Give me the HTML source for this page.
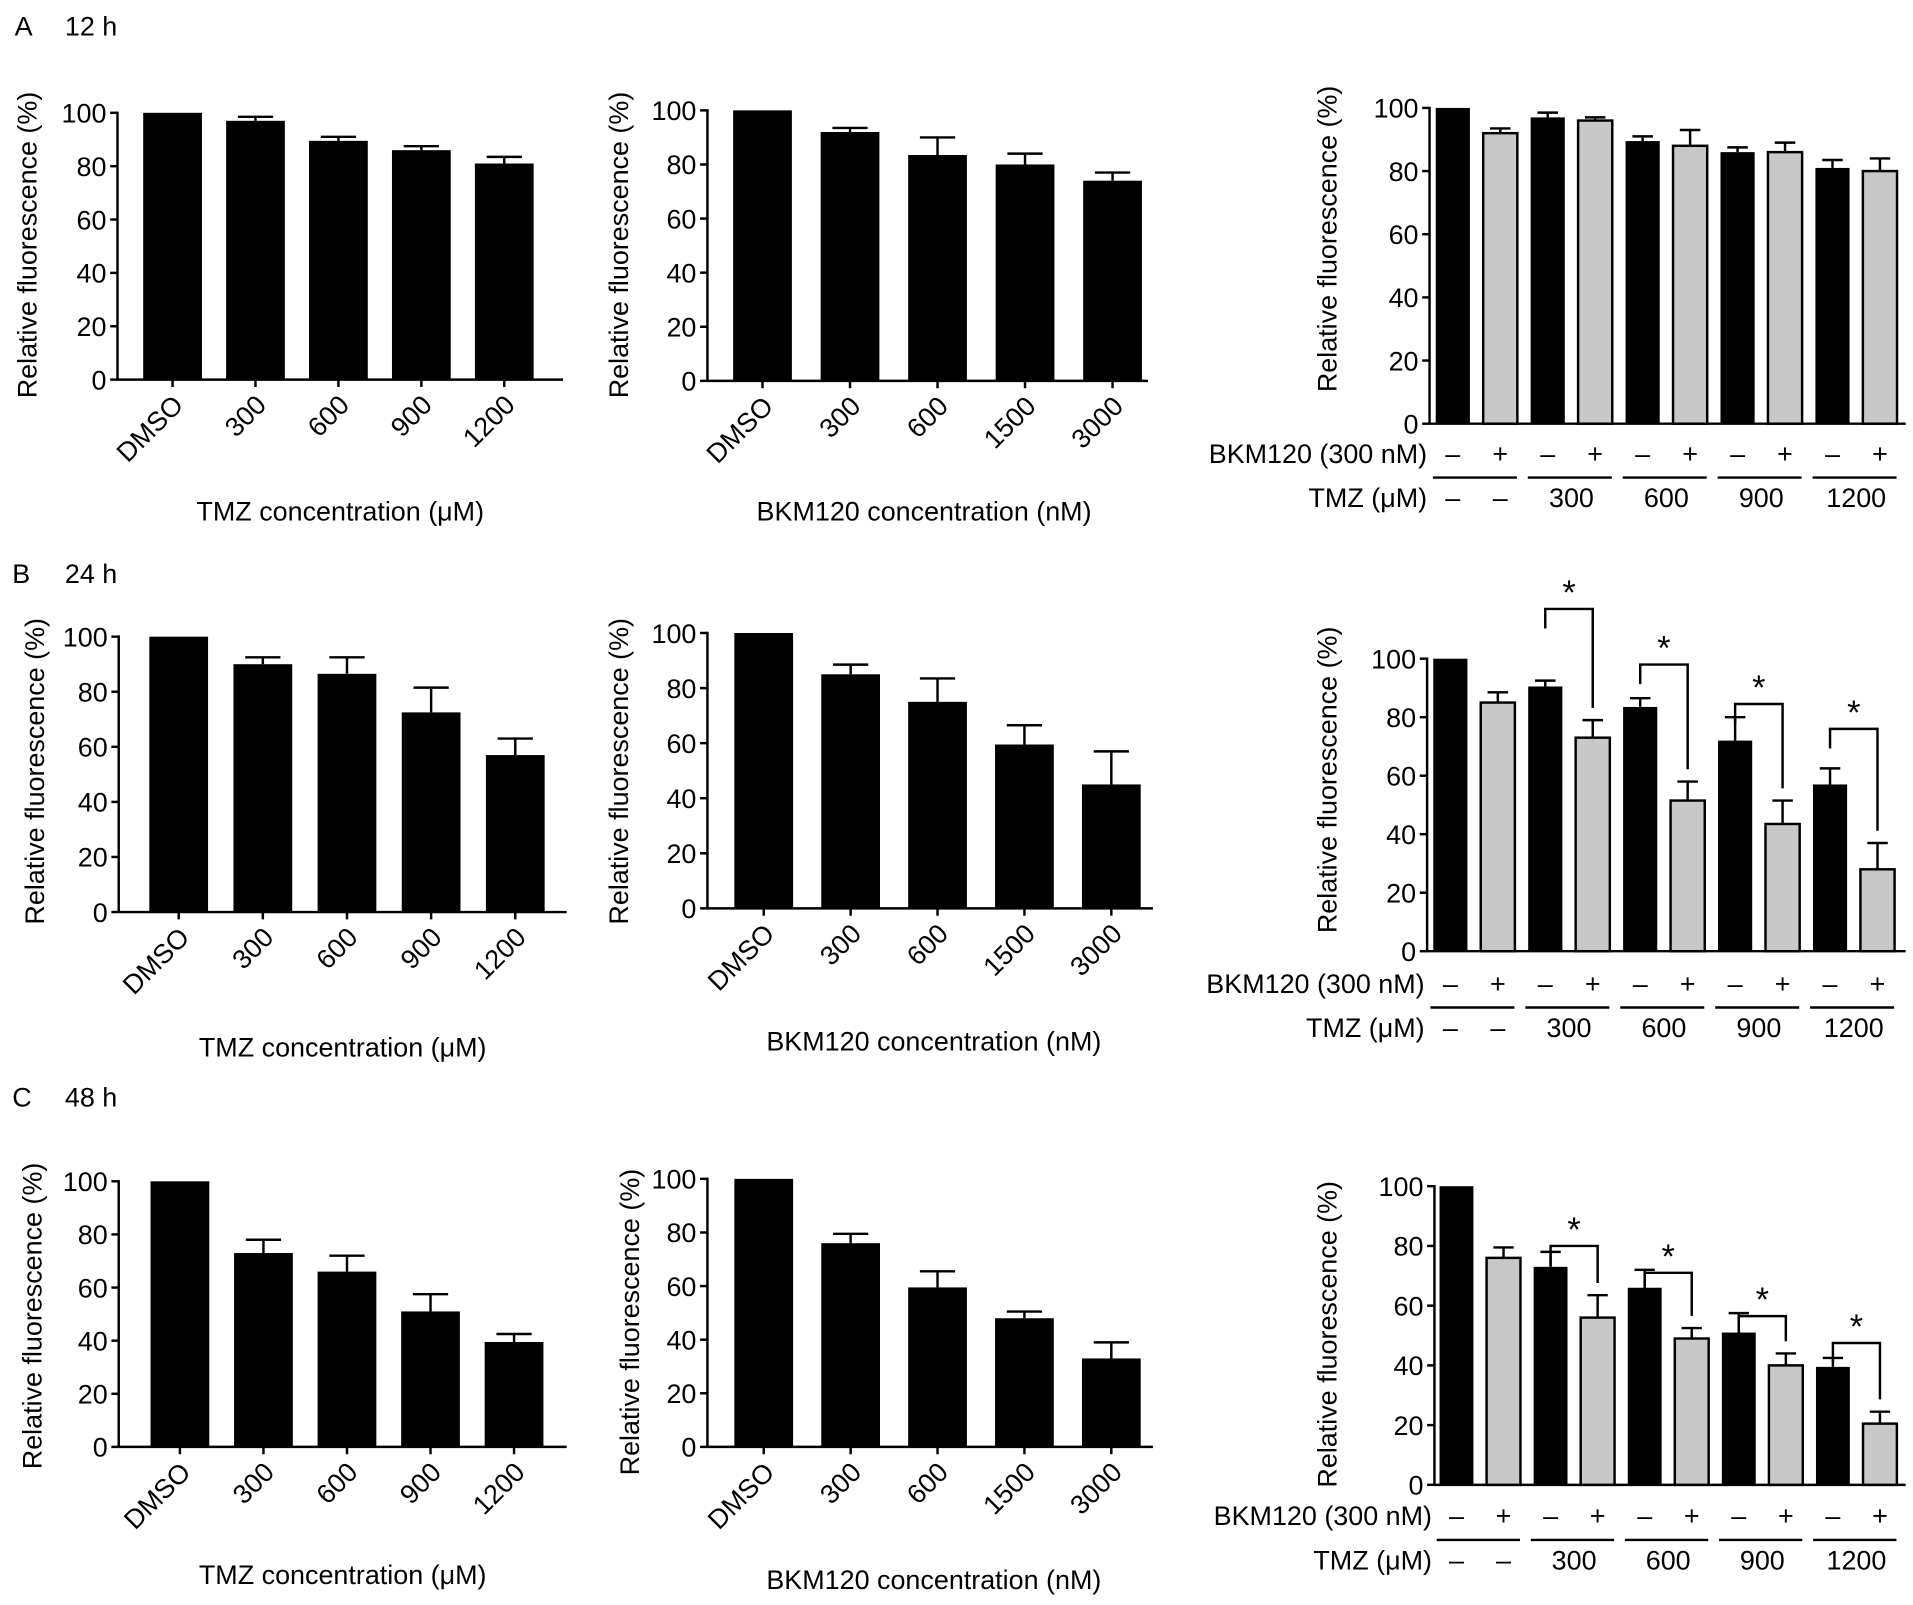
<!DOCTYPE html>
<html><head><meta charset="utf-8">
<style>
html,body{margin:0;padding:0;background:#fff;}
svg{display:block;font-family:"Liberation Sans",Arial,sans-serif;}
</style></head>
<body>
<svg id="fig" width="1913" height="1605" viewBox="0 0 1563 1311" xmlns="http://www.w3.org/2000/svg">
<rect width="1563" height="1311" fill="#fff"/>
<text x="12" y="29" font-size="22">A</text>
<text x="53" y="29" font-size="22">12 h</text>
<text x="10" y="476" font-size="22">B</text>
<text x="53" y="476" font-size="22">24 h</text>
<text x="10" y="904" font-size="22">C</text>
<text x="53" y="904" font-size="22">48 h</text>
</svg>
<script>
const tmzCats = ["DMSO","300","600","900","1200"];
const bkmCats = ["DMSO","300","600","1500","3000"];
const yTicks = [0,20,40,60,80,100];
const tmzLabels = ["300","600","900","1200"];

const a1Vals = [100,97,89.5,86,81];      const a1Err = [0,1.5,1.5,1.5,2.5];
const a2Vals = [100,92,83.5,80,74];      const a2Err = [0,1.5,6.5,4,3];
const a3Black = [100,97,89.5,86,81];     const a3BlackErr = [0,1.5,1.5,1.5,2.5];
const a3Gray = [92,96,88,86,80];         const a3GrayErr = [1.5,1,5,3,4];

const b1Vals = [100,90,86.5,72.5,57];    const b1Err = [0,2.5,6,9,6];
const b2Vals = [100,85,75,59.5,45];      const b2Err = [0,3.5,8.5,7,12];
const b3Black = [100,90.5,83.5,72,57];   const b3BlackErr = [0,2,3,8,5.5];
const b3Gray = [85,73,51.5,43.5,28];     const b3GrayErr = [3.5,6,6.5,8,9];
const b3Brackets = [117,98,84.5,76];

const c1Vals = [100,73,66,51,39.5];      const c1Err = [0,5,6,6.5,3];
const c2Vals = [100,76,59.5,48,33];      const c2Err = [0,3.5,6,2.5,6];
const c3Black = [100,73,66,51,39.5];     const c3BlackErr = [0,5,6,6.5,3];
const c3Gray = [76,56,49,40,20.5];       const c3GrayErr = [3.5,7.5,3.5,4,4];
const c3Brackets = [80,71,56.5,47.5];

const NS = "http://www.w3.org/2000/svg";
const svg = document.getElementById('fig');
function mk(tag, attrs, parent){
  const e = document.createElementNS(NS, tag);
  for (const k in attrs) e.setAttribute(k, attrs[k]);
  (parent||svg).appendChild(e);
  return e;
}
function txt(x,y,s,size,anchor,parent){
  const t = mk('text',{x:x,y:y,'font-size':size,'text-anchor':anchor||'middle'},parent);
  t.textContent = s;
  return t;
}
function axes(g, ax, y0, y100, xEnd, ytx, yty){
  const ys = v => y0 - (y0 - y100) * v / 100;
  const yl = mk('line',{x1:ax,y1:ys(0),x2:ax,y2:ys(100)-1,stroke:'#000','stroke-width':2},g);
  
  
  const xl = mk('line',{x1:ax,y1:y0,x2:xEnd,y2:y0,stroke:'#000','stroke-width':2},g);
  
  
  yTicks.forEach(v=>{
    mk('line',{x1:ax-6,y1:ys(v),x2:ax,y2:ys(v),stroke:'#000','stroke-width':2},g);
    const t = txt(ax-9, ys(v)+8, String(v), 22, 'end', g);
    
    
  });
  const yt = txt(0,0,'Relative fluorescence (%)',22,'middle',g);
  yt.setAttribute('transform','translate('+ytx+','+yty+') rotate(-90)');
  
  
  return ys;
}
function bar(g, cx, w, v, e, ys, fill){
  const y0 = ys(0), yt = ys(v);
  if (e>0){
    const ye = ys(v+e);
    mk('line',{x1:cx,y1:yt,x2:cx,y2:ye,stroke:'#000','stroke-width':2},g);
    mk('line',{x1:cx-w*0.3,y1:ye,x2:cx+w*0.3,y2:ye,stroke:'#000','stroke-width':2},g);
  }
  const r = mk('rect',{x:cx-w/2,y:yt,width:w,height:y0-yt,fill:fill,stroke:'#000','stroke-width':fill==='#000'?0:2},g);
  
  
}
function simple(name, ax, y0, y100, xEnd, c0, c4, cats, vals, errs, ytx, yty, xtitle, xtx, xty){
  const g = mk('g',{});
  
  
  const ys = axes(g, ax, y0, y100, xEnd, ytx, yty);
  const step = (c4-c0)/(cats.length-1);
  cats.forEach((c,i)=>{
    const cx = c0 + i*step;
    bar(g, cx, 48, vals[i], errs[i], ys, '#000');
    mk('line',{x1:cx,y1:y0,x2:cx,y2:y0+6,stroke:'#000','stroke-width':2},g);
    const t = txt(0,0,c,22,'end',g);
    t.setAttribute('transform','translate('+(cx+10)+','+(y0+22)+') rotate(-45)');
    
    
  });
  const xt = txt(xtx, xty, xtitle, 22, 'middle', g);
  
  
}
function combo(name, ax, y0, y100, xEnd, c0, c9, black, bErr, gray, gErr, brackets, ytx, yty, rowY){
  const g = mk('g',{});
  
  
  const ys = axes(g, ax, y0, y100, xEnd, ytx, yty);
  const step = (c9-c0)/9;
  const w = step*0.72;
  for (let i=0;i<5;i++){
    const cb = c0 + 2*i*step, cg = c0 + (2*i+1)*step;
    bar(g, cb, w, black[i], bErr[i], ys, '#000');
    bar(g, cg, w, gray[i], gErr[i], ys, '#c8c8c8');
    const m1 = txt(cb, rowY, '–', 22, 'middle', g);
    
    
    const p1 = txt(cg, rowY, '+', 22, 'middle', g);
    
    
    mk('line',{x1:cb-step*0.42,y1:rowY+12,x2:cg+step*0.35,y2:rowY+12,stroke:'#000','stroke-width':2},g);
    if (i===0){
      txt(cb, rowY+36, '–', 22, 'middle', g);
      txt(cg, rowY+36, '–', 22, 'middle', g);
    } else {
      const tl = txt((cb+cg)/2, rowY+36, tmzLabels[i-1], 22, 'middle', g);
      
      
      if (brackets){
        const top = ys(brackets[i-1]);
        const lb = top + 16;
        const rb = ys(gray[i]+gErr[i]) - 10;
        const p = mk('path',{d:'M'+cb+','+lb+' L'+cb+','+top+' L'+cg+','+top+' L'+cg+','+rb,fill:'none',stroke:'#000','stroke-width':2},g);
        
        
        const s = txt((cb+cg)/2, top-4, '*', 28, 'middle', g);
        
        
      }
    }
  }
  const l1 = txt(ax-2, rowY, 'BKM120 (300 nM)', 22, 'end', g);
  
  
  const l2 = txt(ax-2, rowY+36, 'TMZ (μM)', 22, 'end', g);
  
  
}
simple('chart-a-tmz',96,310,92,460,141,412,tmzCats,a1Vals,a1Err,30,200,'TMZ concentration (μM)',278,425);
simple('chart-a-bkm',578,311,90,938,623,909,bkmCats,a2Vals,a2Err,513,200,'BKM120 concentration (nM)',755,425);
combo('chart-a-combo',1168,346,88,1557,1187,1536,a3Black,a3BlackErr,a3Gray,a3GrayErr,null,1092,195,378);

simple('chart-b-tmz',97,745,520,463,146,421,tmzCats,b1Vals,b1Err,36,630,'TMZ concentration (μM)',280,863);
simple('chart-b-bkm',578,742,517,942,624,908,bkmCats,b2Vals,b2Err,513,630,'BKM120 concentration (nM)',763,858);
combo('chart-b-combo',1166,777,538,1557,1185,1534,b3Black,b3BlackErr,b3Gray,b3GrayErr,b3Brackets,1092,637,811);

simple('chart-c-tmz',97,1182,965,463,147,420,tmzCats,c1Vals,c1Err,34,1075,'TMZ concentration (μM)',280,1294);
simple('chart-c-bkm',578,1182,963,942,624,908,bkmCats,c2Vals,c2Err,522,1080,'BKM120 concentration (nM)',763,1298);
combo('chart-c-combo',1172,1213,969,1557,1190,1536,c3Black,c3BlackErr,c3Gray,c3GrayErr,c3Brackets,1092,1090,1246);
</script>
</body></html>
